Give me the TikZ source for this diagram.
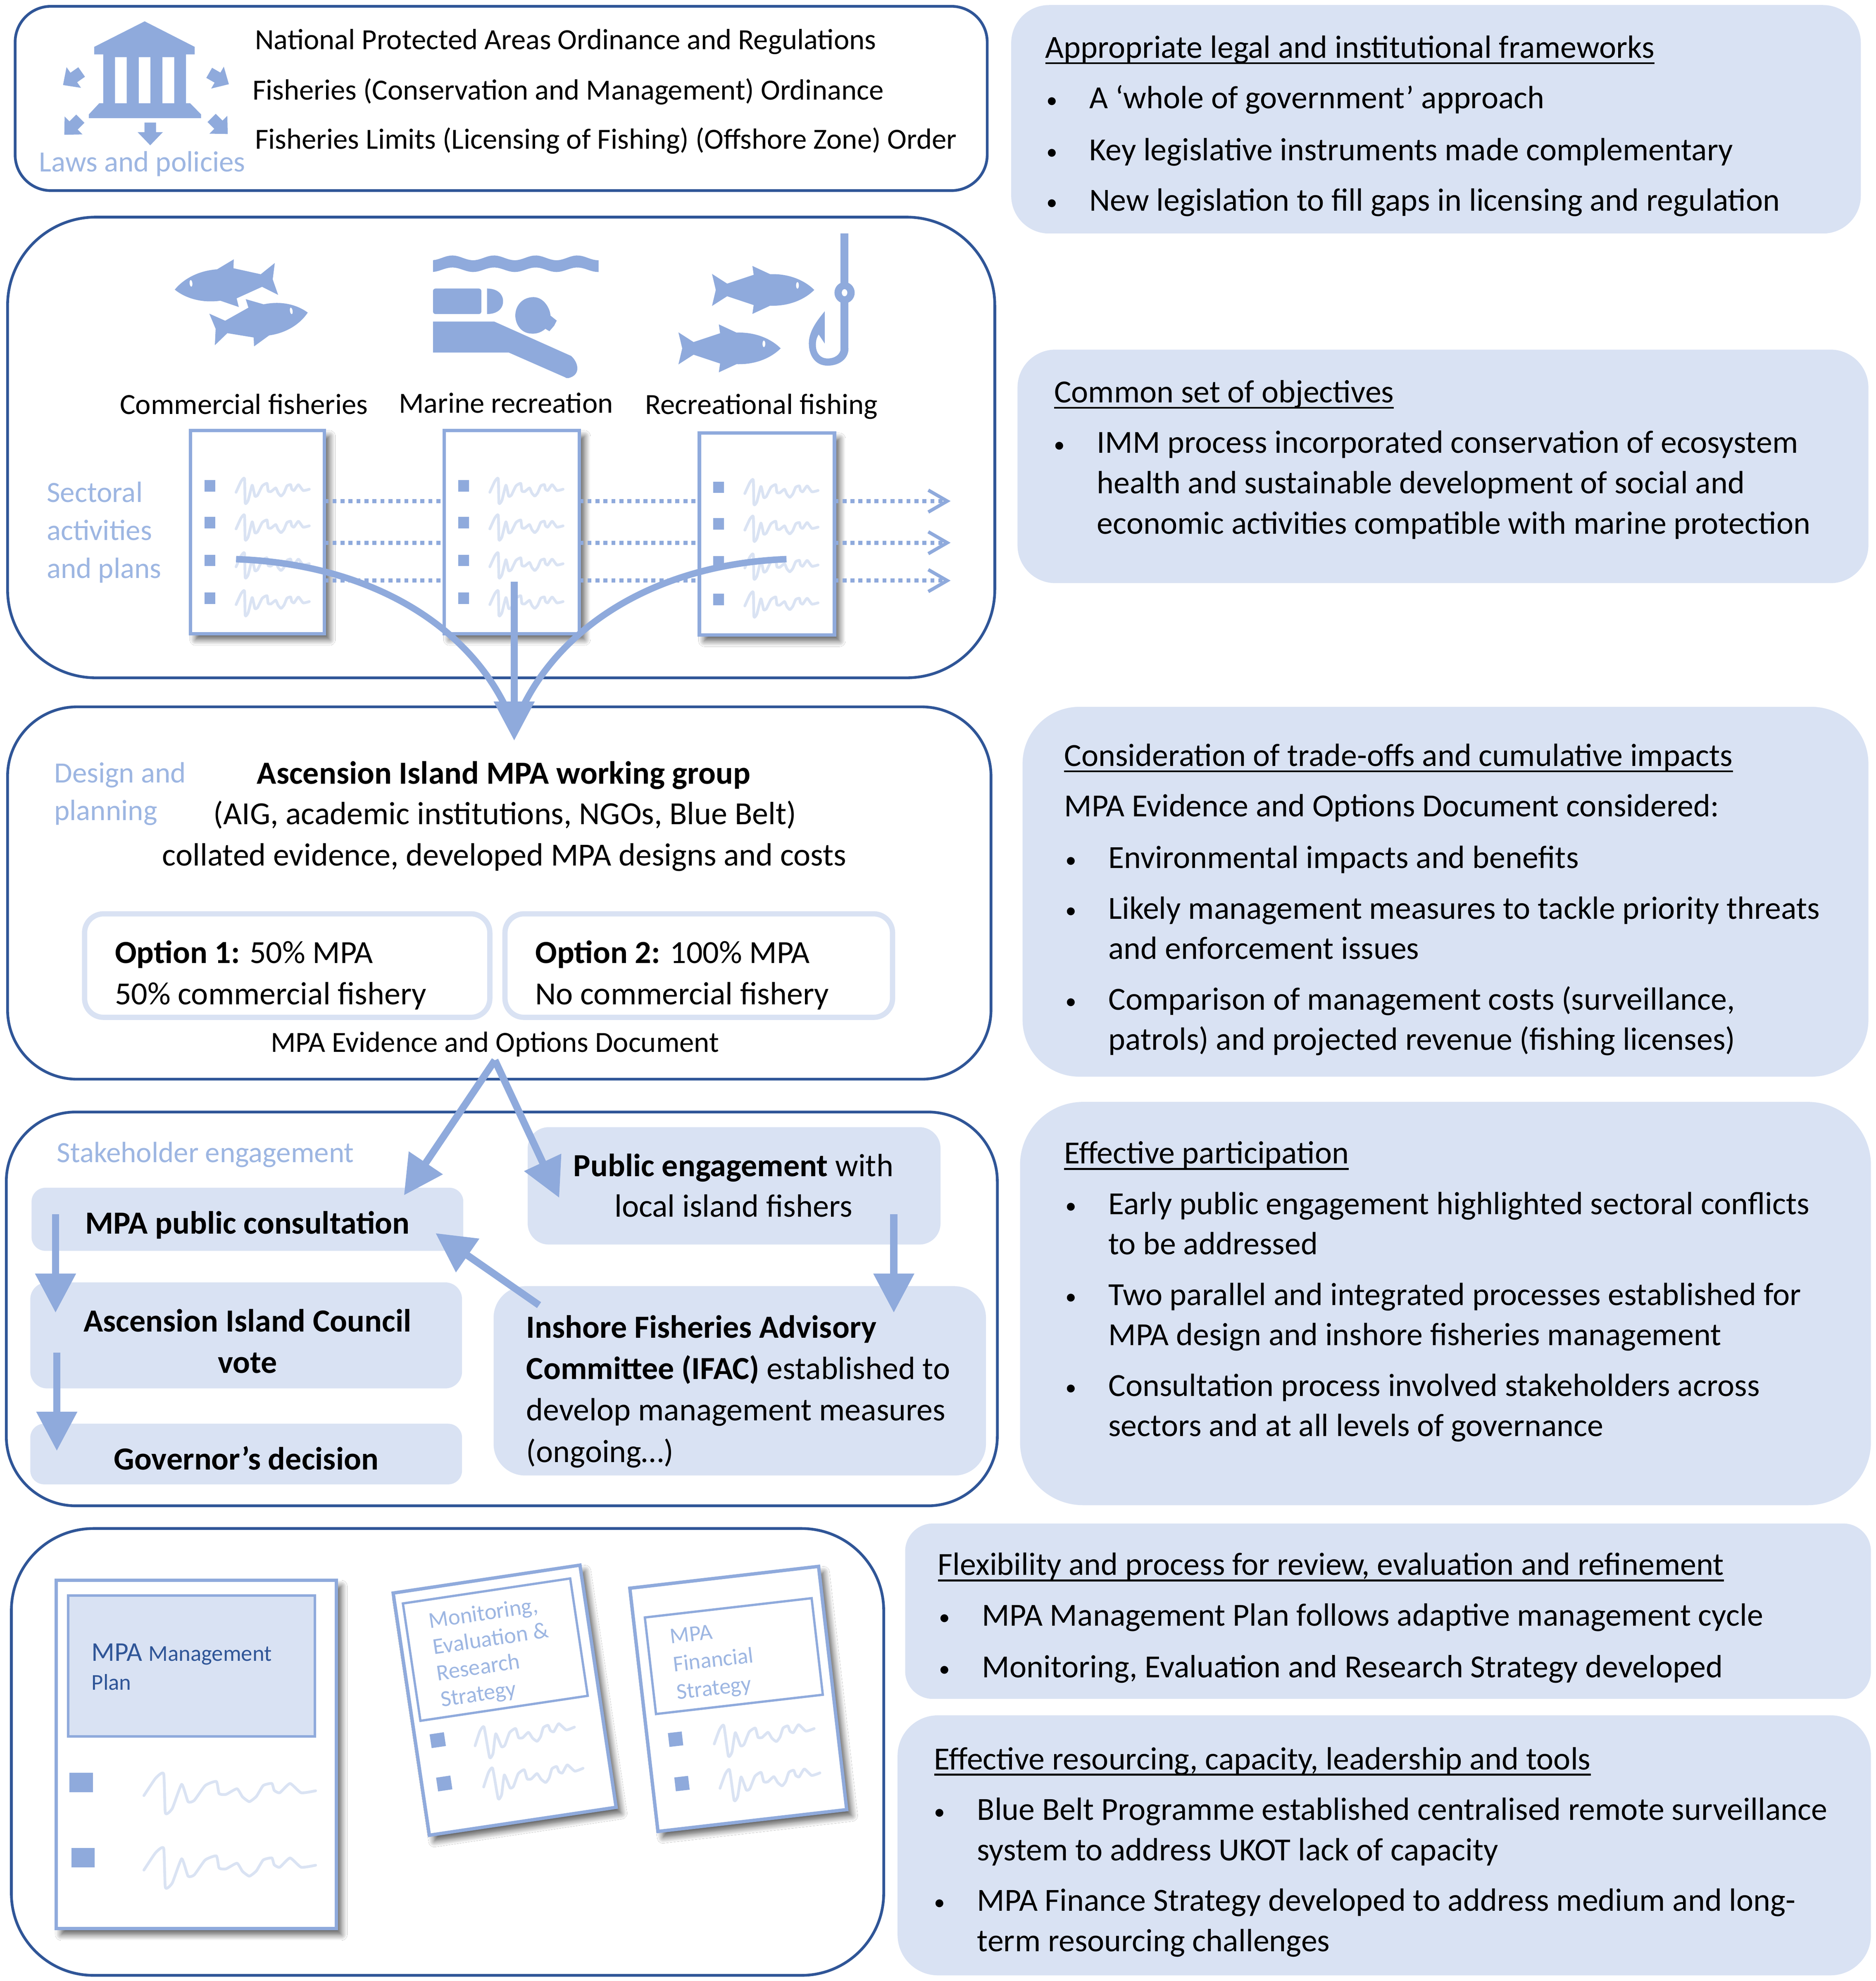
\documentclass[tikz,border=0pt]{standalone}
\usepackage{fontspec}
\setmainfont{Carlito}
\usetikzlibrary{arrows.meta,shadows,shadows.blur,calc}
\definecolor{ice}{HTML}{8FAADC}
\definecolor{icetext}{HTML}{9DB6E2}
\definecolor{navy}{HTML}{2F5597}
\definecolor{pale}{HTML}{D9E2F3}
\definecolor{scrib}{HTML}{DAE3F3}
\newcommand{\bx}[6]{\node[#1,minimum width={(#5-#3)*0.03cm},minimum height={(#6-#4)*0.03cm}] (#2) at ({(#3+#5)/2},{(#4+#6)/2}) {};}
\newcommand{\Ltxt}[1]{\begin{tabular}[t]{@{}l@{}}#1\end{tabular}}
\newcommand{\Ctxt}[1]{\begin{tabular}[t]{@{}c@{}}#1\end{tabular}}
\newcommand{\ul}[1]{\setbox0\hbox{#1}\rlap{\vrule width\wd0 height -2.8pt depth 4.1pt}\box0}
\newcommand{\bul}{\llap{\raisebox{0.7pt}{\fontsize{15}{15}\selectfont •}\hspace{0.76cm}}}
\tikzset{
  base/.style={rectangle,inner sep=0pt,outer sep=0pt},
  panel/.style={base,draw=navy,line width=0.065cm,rounded corners=#1,fill=white},
  soft/.style={base,fill=pale,rounded corners=#1},
  optbox/.style={base,draw=pale,line width=0.125cm,fill=white,rounded corners=0.45cm},
  docpage/.style={base,draw=ice,line width=0.08cm,fill=white,
     blur shadow={shadow xshift=0.12cm,shadow yshift=-0.14cm,shadow blur radius=0.14cm,shadow blur steps=10,shadow opacity=65}},
  tx/.style={inner sep=0pt,outer sep=0pt,anchor=base west,text=black,xshift=0.03cm,yshift=-0.03cm,font=\fontsize{21.8}{27.3}\selectfont},
  tc/.style={tx,anchor=base},
  tz/.style={tx,xshift=-0.03cm,font=\fontsize{19.75}{27.3}\selectfont},
  tzc/.style={tz,anchor=base},
  lb/.style={tx,xshift=-0.03cm,text=icetext,font=\fontsize{19.85}{25.6}\selectfont},
  blue arrow/.style={draw=ice,line width=0.17cm,-{Triangle[length=0.93cm,width=0.93cm]},shorten >=0pt},
  dotline/.style={draw=ice,line width=0.1cm,dash pattern=on 0.096cm off 0.094cm},
  dotend/.style={dotline,-{Straight Barb[length=0.45cm,width=0.52cm,line width=0.08cm]}},
  pics/squig/.style={code={
    \draw[scrib,line width=0.065cm,line cap=round,line join=round] plot[smooth,tension=0.3] coordinates
      {(0,5) (6.8,-38) (11.5,-49) (12.5,48) (16.5,37) (22,-23) (25.7,20) (29.3,17) (35.7,-20) (42.2,-30) (43.8,0) (47.8,2) (54.2,-12) (57.4,8) (61.4,20) (65.5,7) (69.5,-20) (74.5,-25) (75.9,-8) (79.1,-2) (85.1,-25) (91.6,-2) (100,-7)};}},
  pics/fishpic/.style={code={
    \fill[ice] (0,-12.7) -- (12,-5) -- (33,-12) -- (32,-19) -- (46,-12.5)
      .. controls (62,-13) and (74,-7) .. (81,0)
      .. controls (74,7) and (62,13) .. (46,12.5)
      -- (32,19) -- (33,12) -- (12,5) -- (0,12.7) -- (3,0) -- cycle;
    \fill[white] (67.7,-3.6) ellipse (1.1 and 2.6);}},
  pics/blockarrow/.style={code={
    \fill[ice] (-4.6,-9) -- (4.6,-9) -- (4.6,-1.4) -- (10,-1.4) -- (0,9) -- (-10,-1.4) -- (-4.6,-1.4) -- cycle;}},
}
\begin{document}
\begin{tikzpicture}[x=0.03cm,y=-0.03cm]
\useasboundingbox (0,0) rectangle (1486,1569.5);
\fill[white] (0,0) rectangle (1486,1569.5);
% ---------- left panels
\bx{panel=0.85cm}{laws}{12}{5}{782}{151}
\bx{panel=2.1cm}{sector}{6}{172}{788}{537}
\bx{panel=1.65cm}{design}{6}{560}{785}{855}
\bx{panel=1.65cm}{stake}{5}{881}{790}{1193}
\bx{panel=1.95cm}{docs}{9}{1211}{700}{1565}
% ---------- right panels
\bx{soft=0.9cm}{r1}{801}{4}{1474}{185}
\bx{soft=0.9cm}{r2}{806}{277}{1480}{462}
\bx{soft=1.35cm}{r3}{810}{560}{1480}{853}
\bx{soft=1.5cm}{r4}{808}{873}{1482}{1192.5}
\bx{soft=0.66cm}{r5}{717}{1207}{1482}{1346}
\bx{soft=0.96cm}{r6}{711}{1359}{1482}{1565}
% ---------- laws icon
\fill[ice] (114.6,16.9) -- (154.2,37.1) -- (154.2,43.1) -- (147.3,43.1) -- (147.3,81.8) -- (150.6,81.8) -- (159.3,90.6) -- (159.3,93.6)
  -- (70.4,93.6) -- (70.4,90.6) -- (78.6,81.8) -- (81.8,81.8) -- (81.8,43.1) -- (74.7,43.1) -- (74.7,37.1) -- cycle;
\fill[white] (91.1,45.3) rectangle (100.4,81.8) (109.9,45.3) rectangle (119.1,81.8) (128.7,45.3) rectangle (138,81.8);
\pic[rotate=-55] at (57.3,62.2) {blockarrow};
\pic[rotate=60] at (173.5,62.2) {blockarrow};
\pic[rotate=-45] at (57.3,100.4) {blockarrow};
\pic[rotate=45] at (174,99.8) {blockarrow};
\pic at (119,106.1) {blockarrow};
\node[lb] (lawslabel) at (31,135) {Laws and policies};
\node[tz] (law1) at (202,38) {National Protected Areas Ordinance and Regulations};
\node[tz] (law2) at (200,78) {Fisheries (Conservation and Management) Ordinance};
\node[tz] (law3) at (202,117) {Fisheries Limits (Licensing of Fishing) (Offshore Zone) Order};
% ---------- sector icons
\pic[rotate=6,xscale=-1] at (219,221) {fishpic};
\pic[rotate=10,xscale=0.95] at (168,261) {fishpic};
\pic at (564,229.7) {fishpic};
\pic at (537.4,276) {fishpic};
\fill[ice] plot[domain=343:474.2,samples=60] (\x,{204.3-1.9*cos((\x-358.3)/33*360)})
  -- plot[domain=474.2:343,samples=60] (\x,{213.7-1.8*cos((\x-358.3)/33*360)}) -- cycle;
\fill[ice,rounded corners=0.06cm] (343,228.6) rectangle (381.3,248.8);
\fill[ice] (385.8,228.6) .. controls (394,228.6) and (398.5,233) .. (398.5,238.7) .. controls (398.5,244.5) and (394,248.8) .. (385.8,248.8) -- cycle;
\fill[ice] (422.6,235.4) .. controls (431,235.4) and (436,245) .. (436,250) -- (441,254) -- (439,258) -- (435.2,262.4) -- (432,260.5)
  .. controls (428,264) and (424,264.5) .. (421,264.3) .. controls (412,264) and (408.2,256) .. (408.2,249.9) .. controls (408.2,242) and (414,235.4) .. (422.6,235.4) -- cycle;
\fill[ice] (343,254.8) -- (391.6,254.8) -- (452.4,282) .. controls (458,287) and (460,296) .. (452,299) .. controls (450,300) and (448,299.5) .. (447.8,299) -- (403,279.3) -- (343,279.3) -- cycle;
\draw[ice,line width=0.185cm] (669,185) -- (669,277);
\fill[ice] (672.1,276) .. controls (672.1,285) and (664,289.7) .. (655.6,289.7) .. controls (646,289.7) and (640.7,282) .. (640.7,272)
  .. controls (640.7,262) and (648,253) .. (653.3,246.6) -- (653.3,272.2) -- (648.5,265) .. controls (646.5,268) and (646.2,271) .. (646.3,274)
  .. controls (646.5,280) and (650,284) .. (655.6,284) .. controls (661,284) and (665.9,281) .. (665.9,276) -- cycle;
\fill[ice] (669,231.9) ellipse (8 and 8.4);
\fill[white] (669,231.9) ellipse (2.2 and 2.8);
\node[tz] (seclab1) at (95,327) {Commercial fisheries};
\node[tz] (seclab2) at (316,326) {Marine recreation};
\node[tz] (seclab3) at (511,327) {Recreational fishing};
\node[lb] (seclabel) at (37,397) {\Ltxt{Sectoral\\activities\\and plans}};
% ---------- sector documents and dotted flows
\coordinate (dy1) at (0,397); \coordinate (dy2) at (0,430); \coordinate (dy3) at (0,460);
\coordinate (dx) at (753,0);
\bx{docpage}{pa}{151}{341}{257}{502}
\bx{docpage}{pb}{352}{341}{459}{502}
\bx{docpage}{pc}{554}{343}{661}{503}
\foreach \d in {dy1,dy2,dy3}{
  \draw[dotline] (pa.east |- \d) -- (pb.west |- \d);
  \draw[dotline] (pb.east |- \d) -- (pc.west |- \d);
  \draw[dotend] (pc.east |- \d) -- (dx |- \d);
}
\foreach \px/\py/\sx in {162/0/187, 363/0/388, 565/1/590}{
  \foreach \ry in {385,414,444,474}{
    \fill[ice] (\px,\ry+\py-4.5) rectangle (\px+8.5,\ry+\py+4.5);
    \pic[xscale=0.58,yscale=0.2] at (\sx,\ry+\py+4) {squig};
  }
}
% ---------- design panel
\node[lb] (designlabel) at (43,619) {\Ltxt{Design and\\planning}};
\node[tc] (wg1) at (398,620) {\textbf{Ascension Island MPA working group}};
\node[tc] (wg2) at (399,652) {(AIG, academic institutions, NGOs, Blue Belt)};
\node[tc] (wg3) at (398.5,685) {collated evidence, developed MPA designs and costs};
\bx{optbox}{opt1}{67}{724}{388}{806}
\bx{optbox}{opt2}{400}{724}{707}{806}
\node[tx] (opt1t) at (90,762) {\Ltxt{\textbf{Option 1:} 50\% MPA\\[0.85pt]50\% commercial fishery}};
\node[tx] (opt2t) at (423,762) {\Ltxt{\textbf{Option 2:} 100\% MPA\\[0.85pt]No commercial fishery}};
\node[tzc] (evid) at (392,832.5) {MPA Evidence and Options Document};
% ---------- stakeholder panel
\node[lb] (stakelabel) at (45,920) {Stakeholder engagement};
\bx{soft=0.33cm}{consult}{25}{941}{367}{991}
\bx{soft=0.4cm}{council}{24}{1016}{366}{1100}
\bx{soft=0.33cm}{governor}{24}{1128}{366}{1176}
\bx{soft=0.5cm}{public}{418}{893}{745}{986}
\bx{soft=0.75cm}{ifac}{391}{1019}{781}{1169}
\node[tc] (t1) at (195,976.5) {\textbf{MPA public consultation}};
\node[tc] (t2) at (195,1054) {\Ctxt{\textbf{Ascension Island Council}\\[0.6pt]\textbf{vote}}};
\node[tc] (t3) at (194,1163.5) {\textbf{Governor’s decision}};
\node[tc] (t4) at (580,931) {\Ctxt{\textbf{Public engagement} with\\local island fishers}};
\node[tx] (t5) at (416,1059) {\Ltxt{\textbf{Inshore Fisheries Advisory}\\[0.7pt]\textbf{Committee (IFAC)} established to\\[0.7pt]develop management measures\\[0.7pt](ongoing…)}};
% ---------- bottom left documents
\bx{docpage}{mgmt}{44.5}{1252}{266.4}{1528}
\node[base,draw=ice,line width=0.06cm,fill=pale,minimum width=195.4*0.03cm,minimum height=111.6*0.03cm] (mgmttitle) at (151.7,1319.8) {};
\node[tx,xshift=-0.03cm,text=navy,font=\fontsize{18.3}{19.5}\selectfont] (mgmttext) at (72.6,1315) {\Ltxt{MPA {\fontsize{15.3}{19.5}\selectfont Management}\\{\fontsize{15.3}{19.5}\selectfont Plan}}};
\fill[ice] (55,1404.5) rectangle (73.5,1420);
\fill[ice] (56.5,1464) rectangle (75,1479.6);
\pic[xscale=1.36,yscale=0.32] at (114,1421) {squig};
\pic[xscale=1.36,yscale=0.32] at (114,1480) {squig};
\begin{scope}[shift={(399.75,1347)},rotate=8.5,nodes={transform shape}]
  \node[docpage,minimum width=149.6*0.03cm,minimum height=194*0.03cm] (meval) at (0,0) {};
  \node[base,draw=ice,line width=0.055cm,minimum width=134*0.03cm,minimum height=94*0.03cm] (mevalbox) at (-1.4,-40.7) {};
  \node[lb,font=\fontsize{15.4}{17.9}\selectfont] (mevaltext) at (-50,-66) {\Ltxt{Monitoring,\\Evaluation \&\\Research\\Strategy}};
  \fill[ice] (-62.8,18) rectangle (-51.4,29);
  \fill[ice] (-62.8,52.7) rectangle (-51.4,63.7);
  \pic[xscale=0.8,yscale=0.25] at (-28.5,31) {squig};
  \pic[xscale=0.8,yscale=0.25] at (-26.6,64.3) {squig};
\end{scope}
\begin{scope}[shift={(584.8,1346)},rotate=6.6,nodes={transform shape}]
  \node[docpage,minimum width=150.5*0.03cm,minimum height=194*0.03cm] (mfin) at (0,0) {};
  \node[base,draw=ice,line width=0.055cm,minimum width=133*0.03cm,minimum height=77*0.03cm] (mfinbox) at (0.4,-34.1) {};
  \node[lb,font=\fontsize{15.2}{18.9}\selectfont] (mfintext) at (-47.9,-50.5) {\Ltxt{MPA\\Financial\\Strategy}};
  \fill[ice] (-58.5,20.5) rectangle (-47.5,31.5);
  \fill[ice] (-57.5,56) rectangle (-46.5,67);
  \pic[xscale=0.8,yscale=0.25] at (-23,32) {squig};
  \pic[xscale=0.8,yscale=0.25] at (-22.5,67.4) {squig};
\end{scope}
% ---------- right text
\node[tx] (r1h) at (827,45) {\ul{Appropriate legal and institutional frameworks}};
\node[tx] (r1a) at (862,85) {\bul A ‘whole of government’ approach};
\node[tx] (r1b) at (862,126) {\bul Key legislative instruments made complementary};
\node[tx] (r1c) at (862,166) {\bul New legislation to fill gaps in licensing and regulation};
\node[tx] (r2h) at (834,318) {\ul{Common set of objectives}};
\node[tx] (r2a) at (868,358) {\Ltxt{\bul IMM process incorporated conservation of ecosystem\\health and sustainable development of social and\\economic activities compatible with marine protection}};
\node[tx] (r3h) at (842,606) {\ul{Consideration of trade-offs and cumulative impacts}};
\node[tx] (r3i) at (842,646) {MPA Evidence and Options Document considered:};
\node[tx] (r3a) at (877,687) {\bul Environmental impacts and benefits};
\node[tx] (r3b) at (877,727) {\Ltxt{\bul Likely management measures to tackle priority threats\\and enforcement issues}};
\node[tx] (r3c) at (877,799) {\Ltxt{\bul Comparison of management costs (surveillance,\\patrols) and projected revenue (fishing licenses)}};
\node[tx] (r4h) at (842,921) {\ul{Effective participation}};
\node[tx] (r4a) at (877,961) {\Ltxt{\bul Early public engagement highlighted sectoral conflicts\\to be addressed}};
\node[tx] (r4b) at (877,1033) {\Ltxt{\bul Two parallel and integrated processes established for\\MPA design and inshore fisheries management}};
\node[tx] (r4c) at (877,1105) {\Ltxt{\bul Consultation process involved stakeholders across\\sectors and at all levels of governance}};
\node[tx] (r5h) at (742,1247) {\ul{Flexibility and process for review, evaluation and refinement}};
\node[tx] (r5a) at (777,1287) {\bul MPA Management Plan follows adaptive management cycle};
\node[tx] (r5b) at (777,1328) {\bul Monitoring, Evaluation and Research Strategy developed};
\node[tx] (r6h) at (739,1401) {\ul{Effective resourcing, capacity, leadership and tools}};
\node[tx] (r6a) at (773,1441) {\Ltxt{\bul Blue Belt Programme established centralised remote surveillance\\system to address UKOT lack of capacity}};
\node[tx] (r6b) at (773,1513) {\Ltxt{\bul MPA Finance Strategy developed to address medium and long-\\term resourcing challenges}};
% ---------- connectors
\coordinate (leftstart) at (187,443);
\coordinate (rightstart) at (623,443);
\coordinate (midstart) at (407.3,461);
\coordinate (merge) at (407.3,586.8);
\draw[ice,line width=0.155cm] (leftstart) .. controls (295,447) and (375,497) .. (405,570);
\draw[ice,line width=0.155cm] (rightstart) .. controls (519,447) and (440,497) .. (409.6,570);
\draw[blue arrow] (midstart) -- (merge);
\coordinate (fork) at (392,840);
\coordinate (tipconsult) at (320,947);
\coordinate (tippublic) at (443,949);
\coordinate (downA) at (44,962); \coordinate (tipA) at (44,1040);
\coordinate (downB) at (45,1071.5); \coordinate (tipB) at (45,1149.5);
\coordinate (downC) at (708,962); \coordinate (tipC) at (708,1040);
\coordinate (ifacout) at (427,1034); \coordinate (tipD) at (345,977);
\draw[blue arrow] (fork) -- (tipconsult);
\draw[blue arrow] (fork) -- (tippublic);
\draw[blue arrow] (downA) -- (tipA);
\draw[blue arrow] (downB) -- (tipB);
\draw[blue arrow] (downC) -- (tipC);
\draw[blue arrow] (ifacout) -- (tipD);
\end{tikzpicture}
\end{document}
